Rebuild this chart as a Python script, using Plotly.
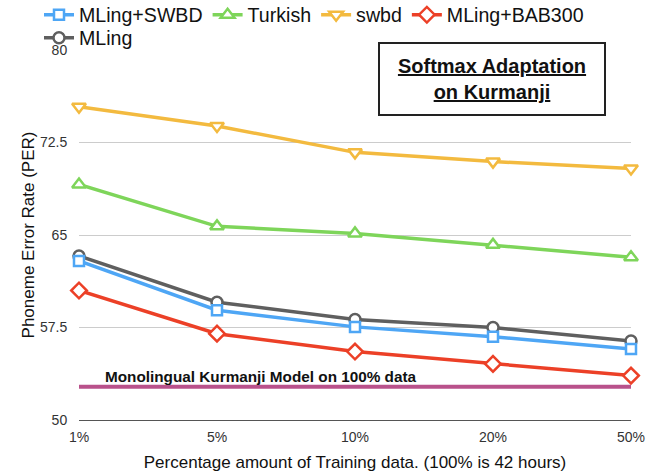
import plotly.graph_objects as go

categories = ["1%", "5%", "10%", "20%", "50%"]
mling_swbd = [62.9, 58.9, 57.55, 56.75, 55.75]
turkish = [69.1, 65.7, 65.13, 64.2, 63.2]
swbd = [75.4, 73.84, 71.7, 70.95, 70.4]
mling_bab300 = [60.5, 57.0, 55.55, 54.55, 53.6]
mling = [63.3, 59.55, 58.15, 57.5, 56.4]
mono_value = 52.7
y_ticks = [50, 57.5, 65, 72.5, 80]

FONT = "Liberation Sans, Arial, Helvetica, sans-serif"

fig = go.Figure()

def add(name, y, color, symbol, size, legend="legend"):
    fig.add_trace(go.Scatter(
        x=categories, y=y, name=name, mode="lines+markers",
        line=dict(color=color, width=3.5),
        marker=dict(symbol=symbol, size=size, color="white",
                    line=dict(color=color, width=2.5)),
        cliponaxis=False, legend=legend,
    ))

# monolingual reference line
fig.add_trace(go.Scatter(
    x=categories, y=[mono_value] * len(categories), mode="lines",
    line=dict(color="#b9518b", width=4), showlegend=False, hoverinfo="skip",
))

add("MLing", mling, "#5f5f5f", "circle", 11, legend="legend2")
add("MLing+SWBD", mling_swbd, "#4ea6f5", "square", 10)
add("Turkish", turkish, "#7ed55a", "triangle-up", 12)
add("swbd", swbd, "#f3ba3f", "triangle-down", 12)
add("MLing+BAB300", mling_bab300, "#ec4027", "diamond", 12)

fig.update_layout(
    template="none",
    width=655, height=472,
    margin=dict(l=79, r=24, t=50, b=52, autoexpand=False),
    paper_bgcolor="white", plot_bgcolor="white",
    font=dict(family=FONT, color="#222"),
    legend=dict(orientation="h", xref="container", yref="container",
                x=39/655, y=1 - 15/472, xanchor="left", yanchor="middle",
                font=dict(size=19.6, color="#111"), bgcolor="rgba(0,0,0,0)",
                tracegroupgap=0, itemwidth=30),
    legend2=dict(orientation="h", xref="container", yref="container",
                 x=39/655, y=1 - 38/472, xanchor="left", yanchor="middle",
                 font=dict(size=19.6, color="#111"), bgcolor="rgba(0,0,0,0)",
                 itemwidth=30),
    xaxis=dict(type="category", range=[0, 4], showgrid=False, automargin=False,
               showline=True, linecolor="#555", linewidth=1,
               zeroline=False, ticks="outside", ticklen=4,
               tickcolor="rgba(0,0,0,0)",
               tickfont=dict(size=14, color="#333"),
               title=dict(text="Percentage amount of Training data. (100% is 42 hours)",
                          font=dict(size=17, color="#111"), standoff=19)),
    yaxis=dict(range=[50, 80], tickvals=y_ticks, automargin=False,
               ticktext=[f"{v:g}" for v in y_ticks],
               showgrid=True, gridcolor="#cccccc", gridwidth=1,
               zeroline=False, showline=False, ticks="outside", ticklen=8,
               tickcolor="rgba(0,0,0,0)",
               tickfont=dict(size=14, color="#333"),
               title=dict(text="Phoneme Error Rate (PER)",
                          font=dict(size=17, color="#111"), standoff=1)),
    annotations=[
        dict(text="<b><u>Softmax Adaptation</u></b><br><b><u>on Kurmanji</u></b>",
             xref="paper", yref="paper", x=(492 - 79) / 552, y=(420 - 79) / 370,
             xanchor="center", yanchor="middle", showarrow=False,
             font=dict(size=20, color="#111"), align="center",
             width=222, height=68, bordercolor="#222", borderwidth=2,
             borderpad=1, bgcolor="white"),
        dict(text="<b>Monolingual Kurmanji Model on 100% data</b>",
             xref="paper", yref="paper", x=(261 - 79) / 552, y=(420 - 376) / 370,
             xanchor="center", yanchor="middle", showarrow=False,
             font=dict(size=15.3, color="#111")),
    ],
)

fig.write_html("out.html", config={"displayModeBar": False},
               post_script="document.body.style.margin='0';")
